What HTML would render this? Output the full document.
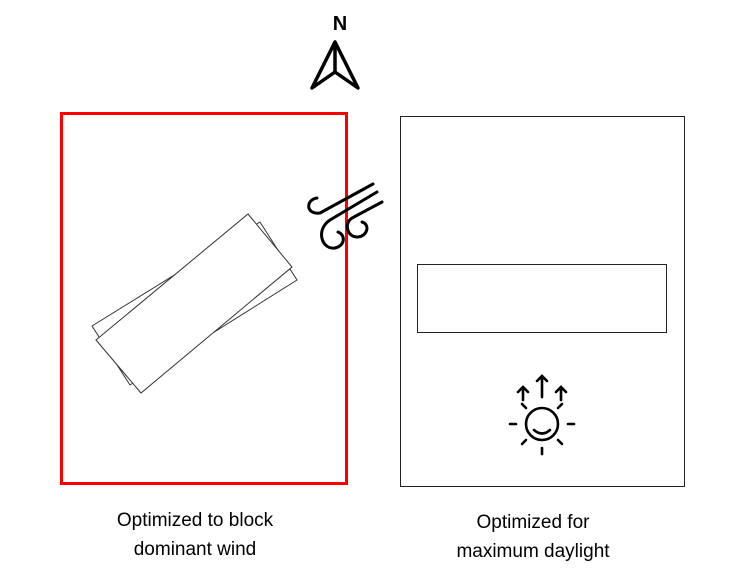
<!DOCTYPE html>
<html><head><style>
body{margin:0;background:#fff;}
.t{position:absolute;font-family:"Liberation Sans",sans-serif;font-size:19px;color:#000;text-align:center;line-height:29px;}
</style></head><body>
<div style="position:relative;width:730px;height:577px;overflow:hidden;">
<svg width="730" height="577" style="position:absolute;left:0;top:0">
<rect x="61.5" y="113.5" width="285" height="370" fill="none" stroke="#f00" stroke-width="3"/>
<rect x="400.5" y="116.5" width="284" height="370" fill="none" stroke="#222" stroke-width="1"/>
<rect x="417.5" y="264.5" width="249" height="68" fill="none" stroke="#222" stroke-width="1"/>
<polygon points="92,326 260,222 297,280 130,385" fill="#fff" stroke="#333" stroke-width="1"/>
<polygon points="96,340 248,214 292,267 141,393" fill="#fff" stroke="#333" stroke-width="1"/>
<text x="340" y="30" font-family="Liberation Sans,sans-serif" font-weight="bold" font-size="20" text-anchor="middle">N</text>
<g fill="none" stroke="#000" stroke-width="3.5" stroke-linejoin="round" stroke-linecap="round">
<path d="M335,42 L312,88 L335,72 L358,88 Z M335,42 L335,72"/>
</g>
<g fill="none" stroke="#000" stroke-width="3" stroke-linecap="round">
<path d="M373,184 L320,213 C306,215 305,200 317,198"/>
<path d="M377,192 L330,220 C315,230 322,250 335,248 C345,246 346,235 338,232"/>
<path d="M382,202 L352,218 C343,224 348,238 358,237 C368,236 370,224 362,222"/>
</g>
<g fill="none" stroke="#000" stroke-width="2.6" stroke-linecap="round">
<circle cx="542" cy="424" r="16"/>
<path d="M534,430 Q542,437 550,430"/>
<path d="M510,424h6 M568,424h6 M542,448v6 M522,404l4,4 M562,404l-4,4 M522,444l4,-4 M562,444l-4,-4"/>
<path d="M523,400v-12 M518,392l5,-5 5,5 M542,397v-20 M537,381l5,-5 5,5 M561,400v-12 M556,392l5,-5 5,5"/>
</g>
</svg>
<div class="t" style="left:70px;top:506px;width:250px;">Optimized to block<br>dominant wind</div>
<div class="t" style="left:408px;top:508px;width:250px;">Optimized for<br>maximum daylight</div>
</div>
</body></html>
